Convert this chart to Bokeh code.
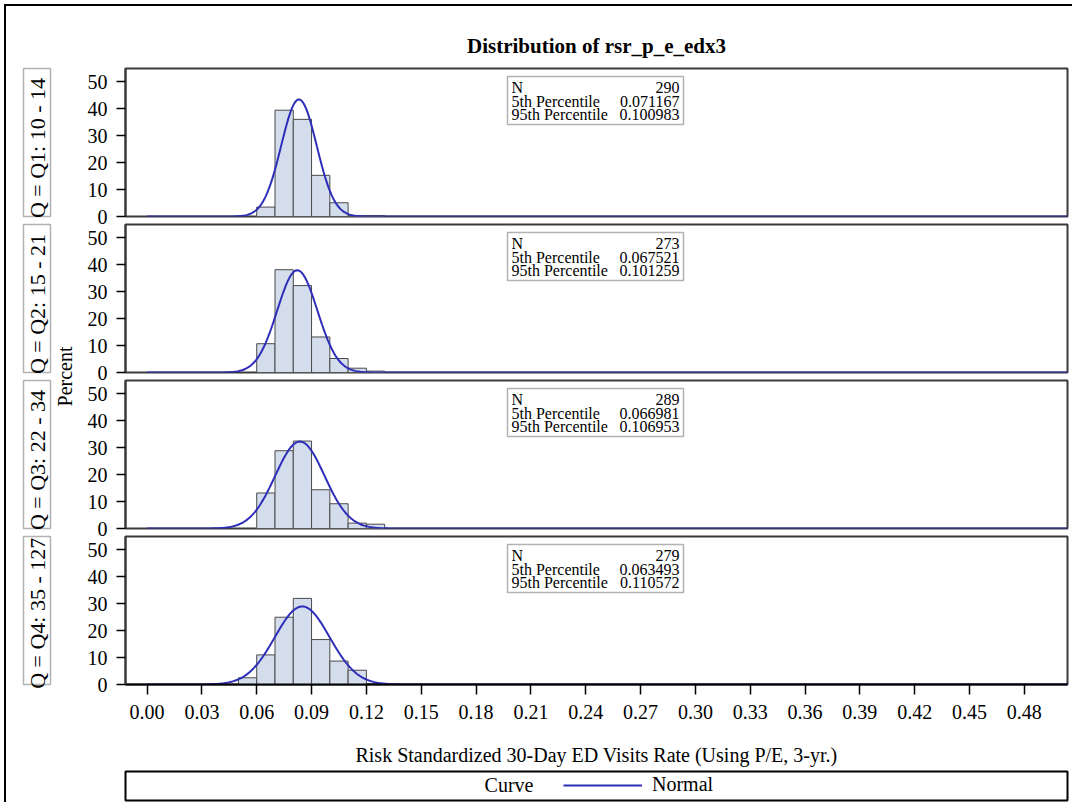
import numpy as np
from bokeh.plotting import figure
from bokeh.models import (Range1d, FixedTicker, Label, BoxAnnotation, Legend,
                          LegendItem, NumeralTickFormatter)
from bokeh.layouts import column, row
from bokeh.embed import file_html
from bokeh.resources import INLINE

# ---------------- data ----------------
title_text = "Distribution of rsr_p_e_edx3"
x_label = "Risk Standardized 30-Day ED Visits Rate (Using P/E, 3-yr.)"
y_label = "Percent"
strip_labels = ["Q = Q1:  10 -  14", "Q = Q2:  15 -  21",
                "Q = Q3:  22 -  34", "Q = Q4:  35 - 127"]

bin_width = 0.01
q1_bin_left = [0.06, 0.07, 0.08, 0.09, 0.10, 0.11, 0.12]
q1_percent = [3.5, 39.5, 36.1, 15.3, 5.1, 0.35, 0.35]
q2_bin_left = [0.06, 0.07, 0.08, 0.09, 0.10, 0.11, 0.12]
q2_percent = [10.7, 38.2, 32.3, 13.2, 5.2, 1.6, 0.5]
q3_bin_left = [0.06, 0.07, 0.08, 0.09, 0.10, 0.11, 0.12]
q3_percent = [13.2, 28.9, 32.5, 14.4, 9.2, 2.0, 1.6]
q4_bin_left = [0.05, 0.06, 0.07, 0.08, 0.09, 0.10, 0.11, 0.12]
q4_percent = [2.5, 11.0, 25.0, 32.0, 16.7, 8.7, 5.3, 0.36]

# fitted normal curve (peak height in percent, centre, spread)
normal_mu = [0.0831, 0.0822, 0.0836, 0.0849]
normal_sigma = [0.0097, 0.0110, 0.0135, 0.0150]
normal_peak = [43.5, 38.0, 32.3, 29.0]

stat_names = ["N", "5th Percentile", "95th Percentile"]
stat_n = ["290", "273", "289", "279"]
stat_p5 = ["0.071167", "0.067521", "0.066981", "0.063493"]
stat_p95 = ["0.100983", "0.101259", "0.106953", "0.110572"]

x_ticks = [0.00, 0.03, 0.06, 0.09, 0.12, 0.15, 0.18, 0.21, 0.24,
           0.27, 0.30, 0.33, 0.36, 0.39, 0.42, 0.45, 0.48]
x_tick_labels = ["0.00", "0.03", "0.06", "0.09", "0.12", "0.15", "0.18", "0.21", "0.24",
                 "0.27", "0.30", "0.33", "0.36", "0.39", "0.42", "0.45", "0.48"]
y_ticks = [0, 10, 20, 30, 40, 50]

legend_title = "Curve"
legend_label = "Normal"

# ---------------- style / layout ----------------
FONT = "Liberation Serif"
BAR_FILL = "#d3ddec"
BAR_LINE = "#4a4a4a"
CURVE = "#2e2eb8"
FRAME = "#3a3a3a"

X_START, X_END = -0.0118, 0.5036
Y_START, Y_END = 0, 55
FRAME_W, FRAME_H = 942, 148
MBL, MBR = 42, 5
LW = 77
TOP1 = 62
BOT_GAP = 12      # room below each frame for the "0" tick label
TOP_GAP = 5
OVERLAP = 9       # canvases overlap so frames stay 8px apart
BOT4 = 86
LEG_H = 29

panel_w = MBL + FRAME_W + MBR
top_b = [TOP1, TOP_GAP, TOP_GAP, TOP_GAP]
bot_b = [BOT_GAP, BOT_GAP, BOT_GAP, BOT4]
heights = [top_b[i] + FRAME_H + bot_b[i] for i in range(4)]
shift = [0, OVERLAP, OVERLAP, OVERLAP]
leg_fig_h = 1 + LEG_H + 2
total_h = sum(heights) - sum(shift) + leg_fig_h


def px2x(px):
    return X_START + px / FRAME_W * (X_END - X_START)


def py2y(py):
    return Y_END - py / FRAME_H * (Y_END - Y_START)


x_range = Range1d(X_START, X_END)
bins = [q1_bin_left, q2_bin_left, q3_bin_left, q4_bin_left]
pcts = [q1_percent, q2_percent, q3_percent, q4_percent]
stats = [stat_n, stat_p5, stat_p95]

panels = []
for i in range(4):
    kw = {}
    if shift[i]:
        kw["styles"] = {"margin-top": "-%dpx" % shift[i]}
    p = figure(width=panel_w, height=heights[i], x_range=x_range,
               y_range=Range1d(Y_START, Y_END),
               x_axis_location="below" if i == 3 else None,
               min_border_left=MBL, min_border_right=MBR,
               min_border_top=top_b[i], min_border_bottom=bot_b[i],
               toolbar_location=None, tools="", output_backend="svg", **kw)
    p.grid.visible = False
    p.outline_line_color = FRAME
    p.outline_line_width = 2
    p.background_fill_color = "white"
    p.border_fill_color = None

    left = np.array(bins[i])
    p.quad(left=left, right=left + bin_width, top=pcts[i], bottom=0,
           fill_color=BAR_FILL, line_color=BAR_LINE, line_width=1)

    xs = np.linspace(0.0, X_END, 700)
    ys = normal_peak[i] * np.exp(-0.5 * ((xs - normal_mu[i]) / normal_sigma[i]) ** 2)
    p.line(xs, ys, line_color=CURVE, line_width=2)

    ax = p.yaxis[0]
    ax.ticker = FixedTicker(ticks=y_ticks)
    ax.minor_tick_line_color = None
    ax.major_tick_in = 0
    ax.major_tick_out = 9
    ax.major_tick_line_color = "black"
    ax.major_tick_line_width = 1.5
    ax.axis_line_color = FRAME
    ax.axis_line_width = 2
    ax.major_label_standoff = 9
    ax.major_label_text_font = FONT
    ax.major_label_text_font_size = "20px"
    ax.major_label_text_color = "black"

    if i == 3:
        xa = p.xaxis[0]
        xa.ticker = FixedTicker(ticks=x_ticks)
        xa.formatter = NumeralTickFormatter(format="0.00")
        xa.major_label_overrides = {t: s for t, s in zip(x_ticks, x_tick_labels)}
        xa.minor_tick_line_color = None
        xa.major_tick_in = 0
        xa.major_tick_out = 10
        xa.major_tick_line_color = "black"
        xa.major_tick_line_width = 1.5
        xa.axis_line_color = "black"
        xa.axis_line_width = 2
        xa.major_label_standoff = 10
        xa.major_label_text_font = FONT
        xa.major_label_text_font_size = "20px"
        xa.major_label_text_color = "black"
        xa.axis_label = x_label
        xa.axis_label_text_font = FONT
        xa.axis_label_text_font_size = "20px"
        xa.axis_label_text_font_style = "normal"
        xa.axis_label_text_color = "black"
        xa.axis_label_standoff = 22

    if i == 0:
        p.title.text = title_text
        p.title.align = "center"
        p.title.text_font = FONT
        p.title.text_font_size = "21px"
        p.title.text_font_style = "bold"
        p.title.text_color = "black"
        p.title.standoff = 21

    # inset statistics box
    p.add_layout(BoxAnnotation(left=px2x(382), right=px2x(558), top=py2y(8), bottom=py2y(56),
                               fill_color="white", fill_alpha=1.0,
                               line_color="black", line_width=1.5))
    for k in range(3):
        yk = py2y(19 + 13.5 * k)
        p.add_layout(Label(x=px2x(386), y=yk, text=stat_names[k], text_align="left",
                           text_baseline="middle", text_font=FONT, text_font_size="16px",
                           text_color="black"))
        p.add_layout(Label(x=px2x(554), y=yk, text=stats[k][i], text_align="right",
                           text_baseline="middle", text_font=FONT, text_font_size="16px",
                           text_color="black"))
    panels.append(p)

# ---------------- legend strip ----------------
leg = figure(width=panel_w, height=leg_fig_h, x_range=Range1d(0, FRAME_W), y_range=Range1d(0, LEG_H),
             x_axis_location=None, y_axis_location=None,
             min_border_left=MBL, min_border_right=MBR, min_border_top=1, min_border_bottom=2,
             toolbar_location=None, tools="", output_backend="svg")
leg.grid.visible = False
leg.outline_line_color = "black"
leg.outline_line_width = 2
leg.border_fill_color = None
proxy = leg.line(x=[np.nan, np.nan], y=[np.nan, np.nan], line_color=CURVE, line_width=2)
legend = Legend(items=[LegendItem(label=legend_label, renderers=[proxy])],
                location=(438, 4), orientation="horizontal",
                glyph_width=79, glyph_height=20, label_height=20, label_standoff=10,
                padding=0, margin=0, border_line_color=None, background_fill_alpha=0,
                label_text_font=FONT, label_text_font_size="20px", label_text_color="black")
leg.add_layout(legend)
leg.add_layout(Label(x=408, y=LEG_H / 2 + 1, text=legend_title, text_align="right",
                     text_baseline="middle", text_font=FONT, text_font_size="20px",
                     text_color="black"))

# ---------------- left strip column ----------------
lf = figure(width=LW, height=total_h, x_range=Range1d(0, LW), y_range=Range1d(total_h, 0),
            x_axis_location=None, y_axis_location=None, min_border=0,
            toolbar_location=None, tools="", output_backend="svg")
lf.grid.visible = False
lf.outline_line_color = None
lf.border_fill_color = None
frame_tops = []
acc = 0
for i in range(4):
    acc -= shift[i]
    frame_tops.append(acc + top_b[i])
    acc += heights[i]
for i in range(4):
    t = frame_tops[i]
    lf.add_layout(BoxAnnotation(left=17, right=44, top=t, bottom=t + FRAME_H,
                                fill_alpha=0, line_color="black", line_width=1.5))
    lf.add_layout(Label(x=30.5, y=t + FRAME_H / 2, text=strip_labels[i], angle=np.pi / 2,
                        text_align="center", text_baseline="middle", text_font=FONT,
                        text_font_size="22px", text_color="black"))
lf.add_layout(Label(x=58.5, y=(frame_tops[1] + FRAME_H + frame_tops[2]) / 2, text=y_label,
                    angle=np.pi / 2, text_align="center", text_baseline="middle",
                    text_font=FONT, text_font_size="20px", text_color="black"))

layout = row(lf, column(*panels, leg, spacing=0), spacing=0,
             styles={"margin-left": "4px", "margin-top": "4px",
                     "border-left": "2px solid black", "border-top": "2px solid black"})

open("out.html", "w").write(file_html(layout, INLINE))
